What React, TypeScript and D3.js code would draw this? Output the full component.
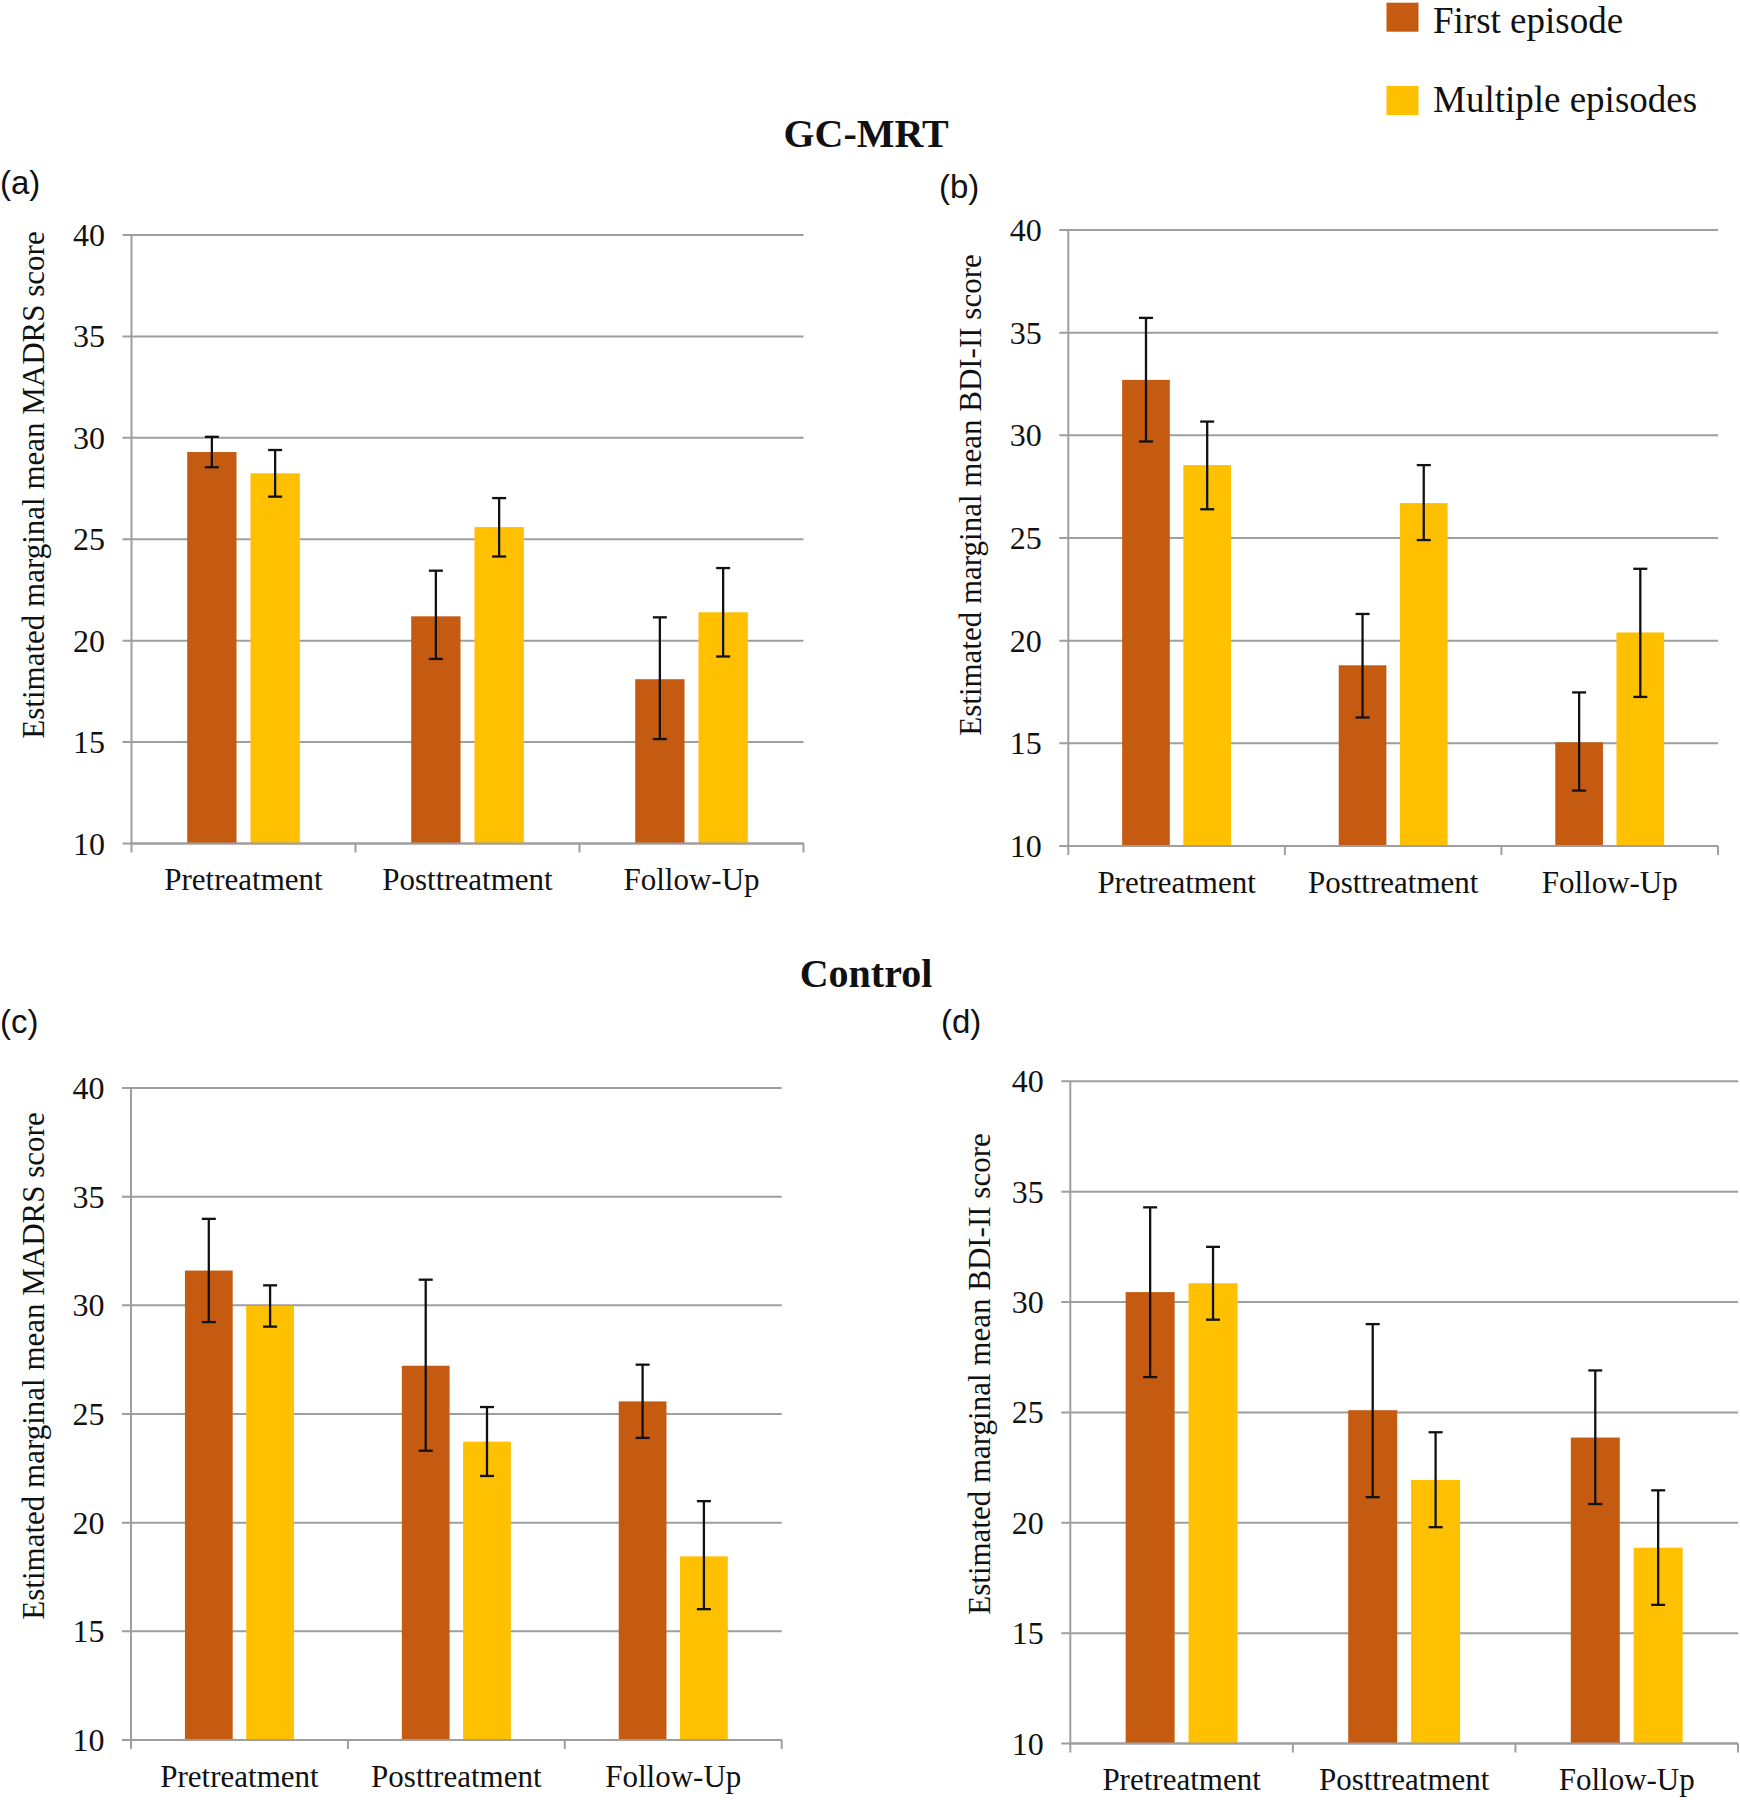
import React from "react";
import * as d3 from "d3";

// ---------- data ----------
const categories = ["Pretreatment", "Posttreatment", "Follow-Up"];
const seriesNames = ["First episode", "Multiple episodes"];
const seriesColors = ["#C55A11", "#FFC000"];
const yTickValues = [10, 15, 20, 25, 30, 35, 40];
const groupTitles = ["GC-MRT", "Control"];
const panelLetters = ["(a)", "(b)", "(c)", "(d)"];
const yTitles = [
  "Estimated marginal mean MADRS score",
  "Estimated marginal mean BDI-II score",
];

// (a) GC-MRT, MADRS
const gcMadrsFirst = [29.3, 21.2, 18.1];
const gcMadrsFirstLow = [28.55, 19.1, 15.15];
const gcMadrsFirstHigh = [30.05, 23.45, 21.15];
const gcMadrsMultiple = [28.25, 25.6, 21.4];
const gcMadrsMultipleLow = [27.1, 24.15, 19.22];
const gcMadrsMultipleHigh = [29.4, 27.03, 23.58];

// (b) GC-MRT, BDI-II
const gcBdiFirst = [32.7, 18.8, 15.05];
const gcBdiFirstLow = [29.7, 16.26, 12.7];
const gcBdiFirstHigh = [35.72, 21.3, 17.48];
const gcBdiMultiple = [28.55, 26.7, 20.4];
const gcBdiMultipleLow = [26.4, 24.9, 17.26];
const gcBdiMultipleHigh = [30.67, 28.55, 23.5];

// (c) Control, MADRS
const ctMadrsFirst = [31.6, 27.22, 25.58];
const ctMadrsFirstLow = [29.23, 23.31, 23.9];
const ctMadrsFirstHigh = [33.98, 31.18, 27.27];
const ctMadrsMultiple = [29.97, 23.73, 18.45];
const ctMadrsMultipleLow = [29.02, 22.15, 16.02];
const ctMadrsMultipleHigh = [30.92, 25.32, 20.99];

// (d) Control, BDI-II
const ctBdiFirst = [30.45, 25.1, 23.86];
const ctBdiFirstLow = [26.6, 21.16, 20.85];
const ctBdiFirstHigh = [34.29, 29.0, 26.9];
const ctBdiMultiple = [30.85, 21.94, 18.87];
const ctBdiMultipleLow = [29.2, 19.8, 16.28];
const ctBdiMultipleHigh = [32.5, 24.1, 21.47];

// ---------- layout ----------
const W = 1740;
const H = 1800;
const SERIF = "'Liberation Serif', 'Times New Roman', serif";
const SANS = "'Liberation Sans', Arial, sans-serif";

const panels = [
  {
    letter: panelLetters[0], letterX: 0, letterY: 194,
    x0: 131.5, x1: 803.5, yTop: 235, yBot: 843.5,
    yTitle: yTitles[0], titleX: 33, titleY: 485,
    series: [
      { v: gcMadrsFirst, lo: gcMadrsFirstLow, hi: gcMadrsFirstHigh },
      { v: gcMadrsMultiple, lo: gcMadrsMultipleLow, hi: gcMadrsMultipleHigh },
    ],
  },
  {
    letter: panelLetters[1], letterX: 939, letterY: 198,
    x0: 1068.3, x1: 1718, yTop: 230, yBot: 846,
    yTitle: yTitles[1], titleX: 970, titleY: 495,
    series: [
      { v: gcBdiFirst, lo: gcBdiFirstLow, hi: gcBdiFirstHigh },
      { v: gcBdiMultiple, lo: gcBdiMultipleLow, hi: gcBdiMultipleHigh },
    ],
  },
  {
    letter: panelLetters[2], letterX: 0, letterY: 1033,
    x0: 131, x1: 781.7, yTop: 1088, yBot: 1740,
    yTitle: yTitles[0], titleX: 33, titleY: 1366,
    series: [
      { v: ctMadrsFirst, lo: ctMadrsFirstLow, hi: ctMadrsFirstHigh },
      { v: ctMadrsMultiple, lo: ctMadrsMultipleLow, hi: ctMadrsMultipleHigh },
    ],
  },
  {
    letter: panelLetters[3], letterX: 941, letterY: 1033,
    x0: 1070.3, x1: 1738, yTop: 1081.3, yBot: 1743.5,
    yTitle: yTitles[1], titleX: 979, titleY: 1374,
    series: [
      { v: ctBdiFirst, lo: ctBdiFirstLow, hi: ctBdiFirstHigh },
      { v: ctBdiMultiple, lo: ctBdiMultipleLow, hi: ctBdiMultipleHigh },
    ],
  },
];

const GRID = "#9E9E9E";

function Panel({ p }: { p: any }) {
  const x = d3.scaleBand<string>().domain(categories).range([p.x0, p.x1]).padding(0);
  const xInner = d3
    .scaleBand<string>()
    .domain(seriesNames)
    .range([0, x.bandwidth()])
    .paddingInner(0.221)
    .paddingOuter(0.88);
  const y = d3.scaleLinear().domain([10, 40]).range([p.yBot, p.yTop]);
  const bw = xInner.bandwidth();
  const cap = 7;
  const boundaries = d3.range(categories.length + 1).map((i) => p.x0 + i * x.step());

  return (
    <g>
      <text x={p.letterX} y={p.letterY} fontFamily={SANS} fontSize={33} fill="#111">
        {p.letter}
      </text>
      {/* gridlines */}
      {yTickValues.map((t) => (
        <g key={t}>
          <line x1={p.x0 - 9} x2={p.x1} y1={y(t)} y2={y(t)} stroke={GRID} strokeWidth={2} />
          <text
            x={p.x0 - 26.5}
            y={y(t)}
            textAnchor="end"
            dominantBaseline="central"
            fontFamily={SERIF}
            fontSize={32}
            fill="#111"
          >
            {t}
          </text>
        </g>
      ))}
      {/* y axis */}
      <line x1={p.x0} x2={p.x0} y1={p.yTop} y2={p.yBot} stroke={GRID} strokeWidth={2} />
      {/* bars */}
      {categories.map((c, ci) =>
        seriesNames.map((s, si) => {
          const ser = p.series[si];
          const bx = (x(c) as number) + (xInner(s) as number);
          return (
            <rect
              key={c + s}
              x={bx}
              y={y(ser.v[ci])}
              width={bw}
              height={y(10) - y(ser.v[ci])}
              fill={seriesColors[si]}
            />
          );
        })
      )}
      {/* error bars */}
      {categories.map((c, ci) =>
        seriesNames.map((s, si) => {
          const ser = p.series[si];
          const cx = (x(c) as number) + (xInner(s) as number) + bw / 2;
          return (
            <g key={"e" + c + s} stroke="#111" strokeWidth={2.3}>
              <line x1={cx} x2={cx} y1={y(ser.hi[ci])} y2={y(ser.lo[ci])} />
              <line x1={cx - cap} x2={cx + cap} y1={y(ser.hi[ci])} y2={y(ser.hi[ci])} />
              <line x1={cx - cap} x2={cx + cap} y1={y(ser.lo[ci])} y2={y(ser.lo[ci])} />
            </g>
          );
        })
      )}
      {/* x axis */}
      <line x1={p.x0} x2={p.x1} y1={p.yBot} y2={p.yBot} stroke={GRID} strokeWidth={2} />
      {boundaries.map((bx, i) => (
        <line key={i} x1={bx} x2={bx} y1={p.yBot} y2={p.yBot + 9} stroke={GRID} strokeWidth={2} />
      ))}
      {categories.map((c) => (
        <text
          key={c}
          x={(x(c) as number) + x.bandwidth() / 2}
          y={p.yBot + 46.5}
          textAnchor="middle"
          fontFamily={SERIF}
          fontSize={31}
          fill="#111"
        >
          {c}
        </text>
      ))}
      <text
        transform={`translate(${p.titleX},${p.titleY}) rotate(-90)`}
        textAnchor="middle"
        dominantBaseline="central"
        fontFamily={SERIF}
        fontSize={31}
        fill="#111"
      >
        {p.yTitle}
      </text>
    </g>
  );
}

export default function App() {
  return (
    <svg
      width={W}
      height={H}
      viewBox={`0 0 ${W} ${H}`}
      style={{ position: "absolute", left: 0, top: 0, background: "#fff" }}
    >
      <rect x={0} y={0} width={W} height={H} fill="#fff" />
      {/* legend */}
      {seriesNames.map((s, i) => (
        <g key={s}>
          <rect x={1386.5} y={2.7 + i * 83.3} width={32} height={29} fill={seriesColors[i]} />
          <text x={1433} y={33 + i * 79} fontFamily={SERIF} fontSize={37} fill="#111">
            {s}
          </text>
        </g>
      ))}
      <text x={866} y={146.7} textAnchor="middle" fontFamily={SERIF} fontWeight="bold" fontSize={40} fill="#111">
        {groupTitles[0]}
      </text>
      <text x={866} y={987} textAnchor="middle" fontFamily={SERIF} fontWeight="bold" fontSize={40} fill="#111">
        {groupTitles[1]}
      </text>
      {panels.map((p) => (
        <Panel key={p.letter} p={p} />
      ))}
    </svg>
  );
}
